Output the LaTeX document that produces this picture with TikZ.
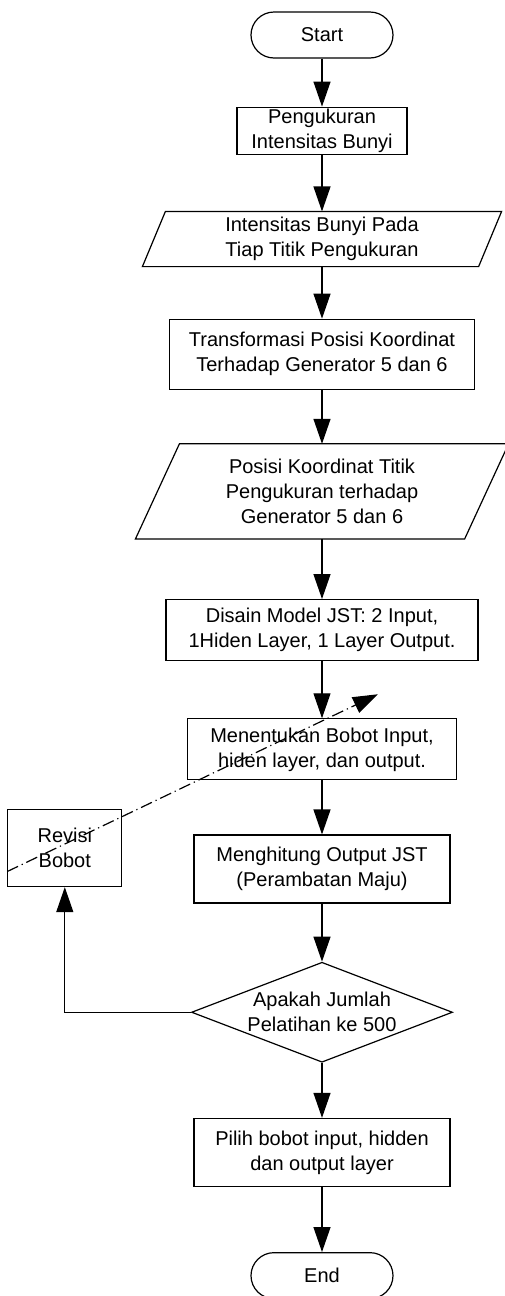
\documentclass[tikz,border=0pt]{standalone}
\usepackage{fontspec}
\setmainfont{Liberation Sans}
\usepackage{tikz}
\usetikzlibrary{shapes,arrows.meta,positioning}

\begin{document}
\begin{tikzpicture}[>={Triangle[length=12.5pt,width=8.5pt]}, line width=0.6pt,
  font=\fontsize{10pt}{12.5pt}\selectfont,
  every node/.style={align=center, inner sep=1pt},
  terminal/.style={draw, rounded corners=11.5pt, minimum width=71pt, minimum height=23pt},
  process/.style={draw, rectangle},
  data/.style={rectangle},
  decision/.style={draw, diamond, aspect=2.6, inner sep=0pt}]
\useasboundingbox (-161pt,17.5pt) rectangle (91pt,-630.5pt);
\node (Start) [terminal] at (0,0) {Start};
\node (Ukur) [process, below=24pt of Start, minimum width=85pt, minimum height=22.5pt] {Pengukuran\\Intensitas Bunyi};
\node (DataBunyi) [data, below=28pt of Ukur, minimum width=167.5pt, minimum height=27pt] {Intensitas Bunyi Pada\\Tiap Titik Pengukuran};
\node (Transform) [process, below=26pt of DataBunyi, minimum width=152.5pt, minimum height=35pt] {Transformasi Posisi Koordinat\\Terhadap Generator 5 dan 6};
\node (DataPosisi) [data, below=27pt of Transform, minimum width=164pt, minimum height=47pt] {Posisi Koordinat Titik\\Pengukuran terhadap\\Generator 5 dan 6};
\node (Disain) [process, below=30pt of DataPosisi, minimum width=156pt, minimum height=30.5pt] {Disain Model JST: 2 Input,\\1Hiden Layer, 1 Layer Output.};
\node (Bobot) [process, below=28.5pt of Disain, minimum width=134.5pt, minimum height=30.5pt] {Menentukan Bobot Input,\\hiden layer, dan output.};
\node (Hitung) [process, below=27pt of Bobot, minimum width=128pt, minimum height=34pt] {Menghitung Output JST\\(Perambatan Maju)};
\node (Cek) [decision, below=29pt of Hitung, minimum width=130.5pt, minimum height=50pt] {Apakah Jumlah\\Pelatihan ke 500};
\node (Pilih) [process, below=27.5pt of Cek, minimum width=128pt, minimum height=34pt] {Pilih bobot input, hidden\\dan output layer};
\node (End) [terminal, below=32.5pt of Pilih] {End};
\node (Revisi) [process, left=35.5pt of Hitung, yshift=10.5pt, minimum width=57pt, minimum height=38.5pt] {Revisi\\Bobot};
\coordinate (Tip) at ([xshift=28pt,yshift=12pt]Bobot.north);
\draw ([xshift=5.75pt]DataBunyi.north west) -- ([xshift=5.75pt]DataBunyi.north east) -- ([xshift=-5.75pt]DataBunyi.south east) -- ([xshift=-5.75pt]DataBunyi.south west) -- cycle;
\draw ([xshift=11pt]DataPosisi.north west) -- ([xshift=11pt]DataPosisi.north east) -- ([xshift=-11pt]DataPosisi.south east) -- ([xshift=-11pt]DataPosisi.south west) -- cycle;
\draw[->] (Start) -- (Ukur);
\draw[->] (Ukur) -- (DataBunyi);
\draw[->] (DataBunyi) -- (Transform);
\draw[->] (Transform) -- (DataPosisi);
\draw[->] (DataPosisi) -- (Disain);
\draw[->] (Disain) -- (Bobot);
\draw[->] (Bobot) -- (Hitung);
\draw[->] (Hitung) -- (Cek);
\draw[->] (Cek) -- (Pilih);
\draw[->] (Pilih) -- (End);
\draw[->] (Cek.west) -| (Revisi.south);
\draw[->, dash pattern=on 6pt off 2pt on 0.6pt off 2pt] ([yshift=-11.75pt]Revisi.west) -- (Tip);
\end{tikzpicture}
\end{document}
